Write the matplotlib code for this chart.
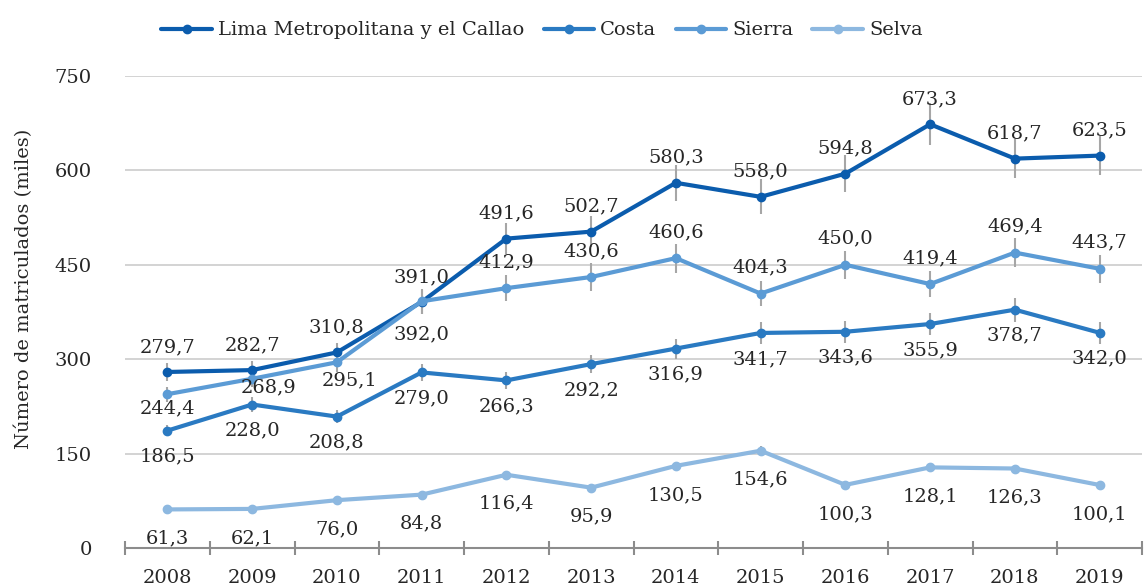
import matplotlib
matplotlib.use("Agg")
import matplotlib.pyplot as plt
import numpy as np

plt.rcParams['font.family'] = ['DejaVu Serif']

years = ['2008', '2009', '2010', '2011', '2012', '2013', '2014', '2015', '2016', '2017', '2018', '2019']
lima = [279.7, 282.7, 310.8, 391.0, 491.6, 502.7, 580.3, 558.0, 594.8, 673.3, 618.7, 623.5]
costa = [186.5, 228.0, 208.8, 279.0, 266.3, 292.2, 316.9, 341.7, 343.6, 355.9, 378.7, 342.0]
sierra = [244.4, 268.9, 295.1, 392.0, 412.9, 430.6, 460.6, 404.3, 450.0, 419.4, 469.4, 443.7]
selva = [61.3, 62.1, 76.0, 84.8, 116.4, 95.9, 130.5, 154.6, 100.3, 128.1, 126.3, 100.1]
names = ['Lima Metropolitana y el Callao', 'Costa', 'Sierra', 'Selva']
colors = ['#0B5CAD', '#2A7AC2', '#5B9BD5', '#8DB8E0']

# label offsets in pixels (dx, dy; dy positive = down)
off_lima = [(0, -25)] * 12
off_costa = [(0, 26)] * 12
off_sierra = [(0, 14), (16, 9), (13, 18), (0, 33)] + [(0, -26)] * 8
off_selva = [(0, 29)] * 12

fig = plt.figure(figsize=(11.48, 5.88), dpi=100)
ax = fig.add_axes([125/1148, 40/588, (1142-125)/1148, 472/588])
x = np.arange(len(years))

series = [lima, costa, sierra, selva]
offsets = [off_lima, off_costa, off_sierra, off_selva]
txtc = '#262626'
fs = 14
for vals, name, col, offs in zip(series, names, colors, offsets):
    v = np.array(vals)
    ax.errorbar(x, v, yerr=v*0.05, fmt='none', ecolor='#A6A6A6', elinewidth=1.5, capsize=0, zorder=2)
    ax.plot(x, v, color=col, lw=3, marker='o', ms=6, label=name, zorder=3,
            solid_capstyle='round')
    for xi, vi, (dx, dy) in zip(x, v, offs):
        ax.annotate(f"{vi:.1f}".replace('.', ','), (xi, vi), xytext=(dx*0.72, -dy*0.72),
                    textcoords='offset points', ha='center', va='center',
                    fontsize=fs, color=txtc, zorder=4)

ax.set_xlim(-0.5, 11.5)
ax.set_ylim(0, 750)
ax.set_yticks([0, 150, 300, 450, 600, 750])
ax.grid(axis='y', color='#D0D0D0', lw=1.3)
ax.set_axisbelow(True)
for s in ['top', 'right', 'left']:
    ax.spines[s].set_visible(False)
ax.spines['bottom'].set_color('#8C8C8C')
ax.spines['bottom'].set_linewidth(1.5)
ax.set_xticks(x)
ax.set_xticklabels(years)
ax.tick_params(axis='x', length=0, labelsize=fs, labelcolor=txtc, pad=15)
ax.set_xticks(np.arange(-0.5, 12, 1), minor=True)
ax.tick_params(axis='x', which='minor', direction='inout', length=10, width=1.5, color='#8C8C8C')
ax.tick_params(axis='y', length=0, labelsize=fs, labelcolor=txtc, pad=24)
ax.set_ylabel('Número de matriculados (miles)', fontsize=14, color=txtc)
ax.yaxis.set_label_coords(-92/1017, 0.55)

leg = ax.legend(loc='upper center', bbox_to_anchor=(542/1148, 1.0), bbox_transform=fig.transFigure,
                ncol=4, frameon=False, fontsize=14, handlelength=2.6, columnspacing=1.0,
                handletextpad=0.3, borderaxespad=0.7)
for t in leg.get_texts():
    t.set_color(txtc)

fig.savefig('out.png', dpi=100)
